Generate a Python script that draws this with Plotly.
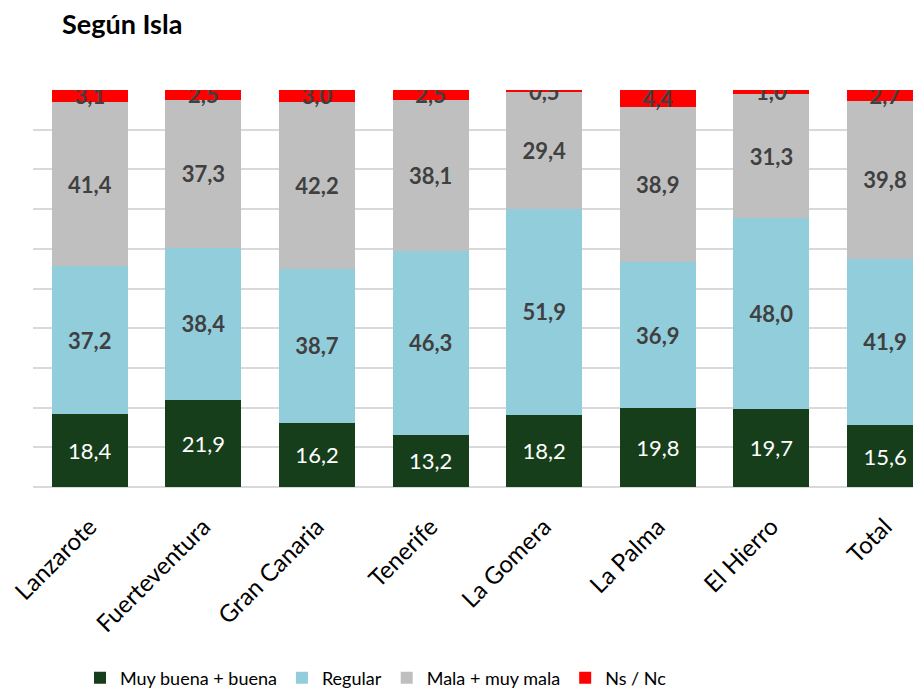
import plotly.graph_objects as go

islas = ["Lanzarote", "Fuerteventura", "Gran Canaria", "Tenerife",
         "La Gomera", "La Palma", "El Hierro", "Total"]
muy_buena = [18.4, 21.9, 16.2, 13.2, 18.2, 19.8, 19.7, 15.6]
regular = [37.2, 38.4, 38.7, 46.3, 51.9, 36.9, 48.0, 41.9]
mala = [41.4, 37.3, 42.2, 38.1, 29.4, 38.9, 31.3, 39.8]
ns_nc = [3.1, 2.5, 3.0, 2.5, 0.5, 4.4, 1.0, 2.7]

dark_txt = dict(color="#404040", size=22, family="Lato", weight="bold")
series = [
    ("Muy buena + buena", muy_buena, "#163E1A", dict(color="white", size=22, family="Lato")),
    ("Regular", regular, "#92CDDC", dark_txt),
    ("Mala + muy mala", mala, "#BFBFBF", dark_txt),
    ("Ns / Nc", ns_nc, "#FF0000", dark_txt),
]

fig = go.Figure()
for name, vals, color, tfont in series:
    fig.add_trace(go.Bar(
        x=islas, y=vals, name=name,
        marker=dict(color=color, line=dict(width=0)),
        text=[f"{v:.1f}".replace(".", ",") for v in vals],
        textposition="inside", insidetextanchor="middle",
        textangle=0, constraintext="none",
        textfont=tfont,
        width=0.67,
    ))

# page body adds an 8px offset, so margins are shifted by 8px
fig.update_layout(
    barmode="stack",
    width=921, height=688,
    margin=dict(l=25, r=0, t=82, b=209),
    paper_bgcolor="white", plot_bgcolor="white",
    font=dict(family="Lato", color="#000000"),
    title=dict(text="<b>Según Isla</b>", x=54 / 921, xref="container", xanchor="left",
               y=1 - 17 / 688, yanchor="middle", font=dict(size=27, color="black")),
    showlegend=True,
    legend=dict(orientation="h", xref="container", x=72 / 921, xanchor="left",
                yref="container", y=18 / 688, yanchor="middle",
                traceorder="normal",
                font=dict(size=18, color="black", family="Lato"),
                itemwidth=30),
)
# the last bar (Total) is cut by the right edge, as in the original
fig.update_xaxes(range=[-0.5, 7.387], tickangle=-45, tickfont=dict(size=24, color="black"),
                 showline=False, ticks="", ticklabelstandoff=20, automargin=False)
fig.update_yaxes(range=[0, 100], dtick=10, showticklabels=False, gridcolor="#D9D9D9",
                 gridwidth=1.5, zeroline=True, zerolinecolor="#D9D9D9", zerolinewidth=1.5,
                 automargin=False)

fig.write_html("out.html")
